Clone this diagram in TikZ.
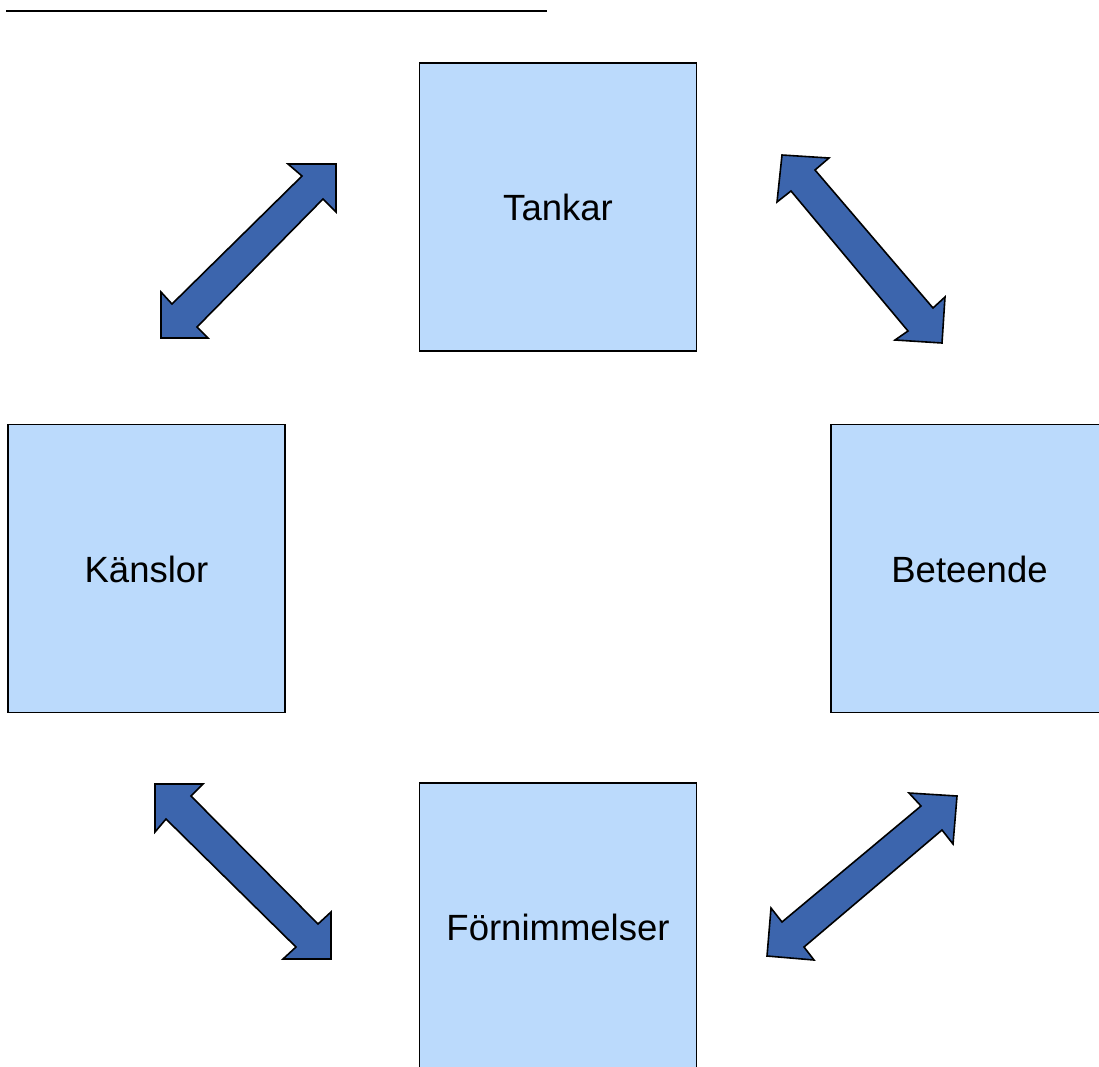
\documentclass[tikz,border=0pt]{standalone}
\usepackage{fontspec}
\setmainfont{Liberation Sans}
\definecolor{boxfill}{RGB}{187,218,252}
\definecolor{arrowfill}{RGB}{60,101,173}
\begin{document}
\begin{tikzpicture}[x=1pt,y=-1pt,
  box/.style={draw=black,line width=1.3pt,fill=boxfill,minimum width=277pt,minimum height=288pt,inner sep=0pt,
    text height=27.5pt,text depth=0pt,font=\fontsize{36.5}{43}\selectfont},
  blockarrow/.style={draw=black,line width=1.6pt,fill=arrowfill,line join=miter}]
\useasboundingbox (0,0) rectangle (1099,1066);
\clip (0,0) rectangle (1099,1066);
\fill[white] (0,0) rectangle (1099,1066);
\draw[line width=2pt] (6,10.5) -- (547,10.5);
\node[box] (tankar) at (558,207) {Tankar};
\node[box] (kanslor) at (146.5,568.5) {Känslor};
\node[box] (beteende) at (969.5,568.5) {Beteende};
\node[box] (fornim) at (558,927) {Förnimmelser};
% arrows
\draw[blockarrow] (336,164) -- (336,212) -- (323,199) -- (197,327) -- (208,338) -- (161,338) -- (161,292) -- (172,304) -- (302,176) -- (288,164) -- cycle;
\draw[blockarrow] (782,155) -- (829,158) -- (815,170) -- (933,308) -- (945,297) -- (942,343) -- (895,340) -- (908,331) -- (791,191) -- (777,202) -- cycle;
\draw[blockarrow] (155,784) -- (203,784) -- (191,796) -- (318,924) -- (331,912) -- (331,959) -- (283,959) -- (296,947) -- (166,819) -- (155,832) -- cycle;
\draw[blockarrow] (909,793) -- (957,796) -- (953,844) -- (942,830) -- (804,947) -- (814,960) -- (767,956) -- (771,908) -- (782,922) -- (921,806) -- cycle;
\end{tikzpicture}
\end{document}
